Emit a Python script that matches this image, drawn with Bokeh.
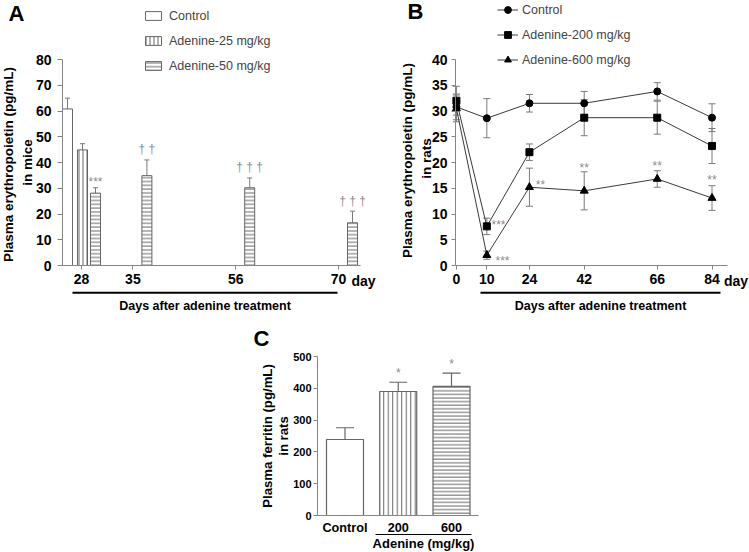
import math
from bokeh.plotting import figure
from bokeh.models import (ColumnDataSource, FixedTicker, Range1d, Label, Legend, LegendItem,
                          Whisker, TeeHead, Spacer, Arrow)
from bokeh.layouts import row, column
from bokeh.embed import file_html
from bokeh.resources import INLINE
from bokeh.core.properties import value

# ---------------- data ----------------
# Panel A: plasma erythropoietin in mice (bars, mean + SEM)
days_A = ["28", "35", "56", "70"]
ctrl_A_days = ["28"]
ctrl_A = [60.8]
ctrl_A_err = [4.2]
ad25_A_days = ["28"]
ad25_A = [44.9]
ad25_A_err = [2.4]
ad50_A_days = ["28", "35", "56", "70"]
ad50_A = [28.1, 34.9, 30.2, 16.6]
ad50_A_err = [2.1, 6.1, 3.8, 4.5]
ad50_A_marks = ["***", "\u2020 \u2020", "\u2020 \u2020 \u2020", "\u2020 \u2020 \u2020"]
yticks_A = [0, 10, 20, 30, 40, 50, 60, 70, 80]

# Panel B: plasma erythropoietin in rats (lines, mean +/- SEM)
days_B = [0, 10, 24, 42, 66, 84]
ctrl_B = [30.8, 28.6, 31.5, 31.5, 33.8, 28.7]
ctrl_B_err = [2.5, 3.8, 1.7, 2.3, 1.7, 2.7]
ad200_B = [32.0, 7.6, 22.0, 28.7, 28.7, 23.2]
ad200_B_err = [2.8, 1.6, 1.6, 3.5, 3.2, 3.4]
ad600_B = [30.5, 2.0, 15.2, 14.5, 16.8, 13.1]
ad600_B_err = [2.6, 0.8, 3.7, 3.7, 1.6, 2.4]
marks_B_series = ["200", "600", "600", "600", "600", "600"]
marks_B_days = [10, 10, 24, 42, 66, 84]
marks_B_text = ["***", "***", "**", "**", "**", "**"]
yticks_B = [0, 5, 10, 15, 20, 25, 30, 35, 40]

# Panel C: plasma ferritin in rats
groups_C = ["Control", "200", "600"]
ferritin_C = [239, 390, 406]
ferritin_C_err = [37, 29, 42]
marks_C = ["", "*", "*"]
yticks_C = [0, 100, 200, 300, 400, 500]

# ---------------- style / geometry ----------------
FONT = "Liberation Sans"
AXC = "#858585"
EDGE = "#666666"
ERRC = "#7a7a7a"
MARKC = "#8c8c8c"


def make_fig(width, height, xr, yr):
    p = figure(width=width, height=height, x_range=Range1d(*xr), y_range=Range1d(*yr),
               min_border_left=0, min_border_right=0, min_border_top=0, min_border_bottom=0,
               output_backend="svg", toolbar_location=None, tools="")
    p.outline_line_color = None
    p.grid.visible = False
    p.background_fill_color = "white"
    p.border_fill_color = "white"
    return p


def style_axis(axis, ticks, overrides, size, bounds, fixed, tick_out=4, standoff=4):
    axis.fixed_location = fixed
    axis.ticker = FixedTicker(ticks=ticks)
    axis.major_label_overrides = overrides
    axis.major_label_text_font = FONT
    axis.major_label_text_font_style = "bold"
    axis.major_label_text_font_size = size
    axis.major_label_text_color = "black"
    axis.axis_line_color = AXC
    axis.axis_line_width = 1
    axis.major_tick_line_color = AXC if tick_out else None
    axis.major_tick_out = tick_out
    axis.major_tick_in = 0
    axis.minor_tick_line_color = None
    axis.major_label_standoff = standoff
    axis.bounds = bounds


def add_label(p, x, y, text, size, bold=True, align="left", angle=0.0, color="black"):
    # y is the visual middle of the text
    p.add_layout(Label(x=x, y=y, text=text, text_font=FONT, text_font_size=size,
                       text_font_style="bold" if bold else "normal", text_align=align,
                       text_baseline="middle", angle=angle, text_color=color))


def add_bracket(p, x0, x1, y, width):
    p.add_layout(Arrow(x_start=x0, y_start=y, x_end=x1, y_end=y, start=None, end=None,
                       line_width=width, line_color="black"))


W_A, W_B = 376, 373
H1, H2 = 316, 236
W_SP, W_C = 250, 250

# ================= Panel A =================
POS_A = {"28": 0, "35": 1, "56": 3, "70": 5}
UA = 51.4


def ax_(px):
    return (px - 81) / UA


def ay_(py):
    return (265 - py) / 2.575


pA = make_fig(W_A, H1, (ax_(0), ax_(W_A)), (ay_(H1), ay_(0)))


def bars_A(days, vals, errs, dx_px, hatch=None, hscale=4.0):
    xs = [POS_A[d] + dx_px / UA for d in days]
    src = ColumnDataSource(dict(x=xs, top=vals, up=[v + e for v, e in zip(vals, errs)]))
    kw = {}
    if hatch:
        kw = dict(hatch_pattern=hatch, hatch_scale=hscale, hatch_color=EDGE, hatch_weight=1)
    r = pA.vbar(x="x", top="top", bottom=0, width=10 / UA, source=src, fill_color="white",
                line_color=EDGE, line_width=1, **kw)
    pA.add_layout(Whisker(base="x", lower="top", upper="up", source=src, line_color=ERRC,
                          line_width=1, lower_head=None, level="underlay",
                          upper_head=TeeHead(size=5, line_color=ERRC, line_width=1)))
    return r


rA1 = bars_A(ctrl_A_days, ctrl_A, ctrl_A_err, -14)
rA2 = bars_A(ad25_A_days, ad25_A, ad25_A_err, 1, "vertical_line", 4.0)
rA3 = bars_A(ad50_A_days, ad50_A, ad50_A_err, 14, "horizontal_line", 3.8)

mx, my = [], []
for d, v, e, t in zip(ad50_A_days, ad50_A, ad50_A_err, ad50_A_marks):
    up_px = 10.5 if "\u2020" in t else 5.5
    mx.append(POS_A[d] + 14 / UA)
    my.append(v + e + up_px / 2.575)
pA.text(x=mx, y=my, text=ad50_A_marks, text_font=value(FONT), text_font_size=value("12px"),
        text_color=MARKC, text_align="center", text_baseline="middle")

style_axis(pA.xaxis[0], [POS_A[d] for d in days_A], {POS_A[d]: d for d in days_A}, "14px",
           (ax_(62), ax_(360)), 0, tick_out=4, standoff=4)
style_axis(pA.yaxis[0], yticks_A, {}, "14px", (0, 80), ax_(62), tick_out=5, standoff=6)

add_label(pA, ax_(8), ay_(12.5), "A", "22px")
add_label(pA, ax_(7.5), ay_(164), "Plasma erythropoietin (pg/mL)", "13.5px",
          align="center", angle=math.pi / 2)
add_label(pA, ax_(26.5), ay_(162), "in mice", "13.5px", align="center", angle=math.pi / 2)
add_label(pA, POS_A["70"] + 13 / UA, ay_(280.5), "day", "14px")
add_bracket(pA, ax_(72), ax_(337), ay_(292.3), 2)
add_label(pA, (ax_(72) + ax_(337)) / 2, ay_(305), "Days after adenine treatment", "12.5px",
          align="center")

legA = Legend(items=[LegendItem(label="Control", renderers=[rA1]),
                     LegendItem(label="Adenine-25 mg/kg", renderers=[rA2]),
                     LegendItem(label="Adenine-50 mg/kg", renderers=[rA3])],
              location=(143, H1 - 73),
              label_text_font=FONT, label_text_font_size="12.5px", glyph_width=20,
              glyph_height=11, label_height=15, spacing=10, padding=0, margin=0,
              label_standoff=6, border_line_color=None, background_fill_alpha=0)
pA.add_layout(legA)

# ================= Panel B =================
UB = 3.043
B0 = W_A


def bx_(px):
    return (px - 455.9) / UB


def by_(py):
    return (265 - py) / 5.15


pB = make_fig(W_B, H1, (bx_(B0), bx_(B0 + W_B)), (by_(H1), by_(0)))


def series_B(vals, errs, marker, size, label):
    src = ColumnDataSource(dict(x=days_B, y=vals, lo=[v - e for v, e in zip(vals, errs)],
                                hi=[v + e for v, e in zip(vals, errs)]))
    pB.add_layout(Whisker(base="x", lower="lo", upper="hi", source=src, line_color=ERRC,
                          line_width=1, level="underlay",
                          lower_head=TeeHead(size=7, line_color=ERRC, line_width=1),
                          upper_head=TeeHead(size=7, line_color=ERRC, line_width=1)))
    ln = pB.line("x", "y", source=src, line_color="#3a3a3a", line_width=1)
    sc = pB.scatter("x", "y", source=src, marker=marker, size=size, fill_color="black",
                    line_color="black")
    return LegendItem(label=label, renderers=[ln, sc])


itB = [series_B(ctrl_B, ctrl_B_err, "circle", 7, "Control"),
       series_B(ad200_B, ad200_B_err, "square", 7, "Adenine-200 mg/kg"),
       series_B(ad600_B, ad600_B_err, "triangle", 8, "Adenine-600 mg/kg")]

# significance marks: (side/top, dx px, dy px) placement of visible centre
MARK_B_PLACE = [("side", 11.7, -4), ("side", 15.7, 2.6), ("side", 11, -5),
                ("top", 0, -7), ("top", 0, -7.5), ("top", 0, -8.5)]
series_map = {"200": (ad200_B, ad200_B_err), "600": (ad600_B, ad600_B_err)}
bmx, bmy = [], []
for s, d, (kind, dx, dy) in zip(marks_B_series, marks_B_days, MARK_B_PLACE):
    vals, errs = series_map[s]
    i = days_B.index(d)
    base = vals[i] if kind == "side" else vals[i] + errs[i]
    bmx.append(d + dx / UB)
    bmy.append(base - (dy + 3) / 5.15)
pB.text(x=bmx, y=bmy, text=marks_B_text, text_font=value(FONT), text_font_size=value("12px"),
        text_color=MARKC, text_align="center", text_baseline="middle")

style_axis(pB.xaxis[0], days_B, {d: str(d) for d in days_B}, "14px",
           (bx_(455), bx_(727)), 0, tick_out=4, standoff=4)
style_axis(pB.yaxis[0], yticks_B, {}, "14px", (0, 40), bx_(455), tick_out=4, standoff=4)

add_label(pB, bx_(407), by_(10.5), "B", "22px")
add_label(pB, bx_(406.5), by_(160), "Plasma erythropoietin (pg/mL)", "13.5px",
          align="center", angle=math.pi / 2)
add_label(pB, bx_(426), by_(158), "in rats", "13.5px", align="center", angle=math.pi / 2)
add_label(pB, 84 + 12 / UB, by_(280.5), "day", "14px")
add_bracket(pB, bx_(480), bx_(720), by_(292.3), 2)
add_label(pB, (bx_(480) + bx_(720)) / 2, by_(305), "Days after adenine treatment",
          "12.5px", align="center")

legB = Legend(items=itB, location=(497 - B0, H1 - 68),
              label_text_font=FONT, label_text_font_size="12.5px", glyph_width=21,
              glyph_height=17, label_height=17, spacing=8, padding=0, margin=0,
              label_standoff=4, border_line_color=None, background_fill_alpha=0)
pB.add_layout(legB)

# ================= Panel C =================
UC = 53.25
C0X, C0Y = W_SP, H1


def ccx(px):
    return (px - 344.5) / UC


def ccy(py):
    return (515 - py) / 0.318


pC = make_fig(W_C, H2, (ccx(C0X), ccx(C0X + W_C)), (ccy(C0Y + H2), ccy(C0Y)))

xs_C = list(range(len(groups_C)))
hatch_C = [" ", "vertical_line", "horizontal_line"]
hscale_C = [4.0, 4.5, 3.6]
srcC = ColumnDataSource(dict(x=xs_C, top=ferritin_C,
                             up=[v + e for v, e in zip(ferritin_C, ferritin_C_err)],
                             hatch=hatch_C, hscale=hscale_C))
pC.vbar(x="x", top="top", bottom=0, width=37 / UC, source=srcC, fill_color="white",
        line_color=EDGE, line_width=1.2, hatch_pattern="hatch", hatch_scale="hscale",
        hatch_color=EDGE, hatch_weight=1)
pC.add_layout(Whisker(base="x", lower="top", upper="up", source=srcC, line_color=EDGE,
                      line_width=1.2, lower_head=None, level="underlay",
                      upper_head=TeeHead(size=18, line_color=EDGE, line_width=1.2)))
cmx = [x for x, t in zip(xs_C, marks_C) if t]
cmy = [v + e + 9 / 0.318 for v, e, t in zip(ferritin_C, ferritin_C_err, marks_C) if t]
pC.text(x=cmx, y=cmy, text=[t for t in marks_C if t], text_font=value(FONT),
        text_font_size=value("12px"), text_color=MARKC, text_align="center",
        text_baseline="middle")

style_axis(pC.xaxis[0], xs_C, {i: g for i, g in zip(xs_C, groups_C)}, "12.7px",
           (ccx(317), ccx(478)), 0, tick_out=0, standoff=5)
style_axis(pC.yaxis[0], yticks_C, {}, "11px", (0, 500), ccx(317), tick_out=4, standoff=2)

add_label(pC, ccx(253), ccy(337.5), "C", "22px")
add_label(pC, ccx(267), ccy(435.5), "Plasma ferritin (pg/mL)", "13.2px", align="center",
          angle=math.pi / 2)
add_label(pC, ccx(283), ccy(435.5), "in rats", "13.2px", align="center", angle=math.pi / 2)
add_bracket(pC, ccx(375), ccx(471), ccy(534), 1.2)
add_label(pC, (ccx(375) + ccx(471)) / 2, ccy(542.5), "Adenine (mg/kg)", "13px",
          align="center")

layout = column(row(pA, pB), row(Spacer(width=W_SP, height=H2), pC))
open("out.html", "w").write(file_html(layout, INLINE))
